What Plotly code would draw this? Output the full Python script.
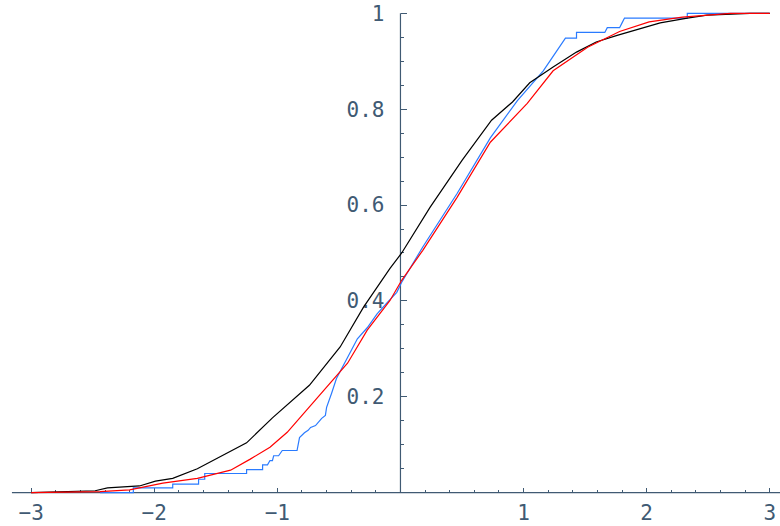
import plotly.graph_objects as go

# Black curve
black_x = [-3.00, -2.74, -2.63, -2.48, -2.38, -2.20, -2.12, -1.99, -1.85, -1.65, -1.44, -1.25,
           -1.04, -0.88, -0.74, -0.49, -0.30, -0.085, 0.01, 0.24, 0.50, 0.74, 0.91, 1.05,
           1.24, 1.43, 1.59, 1.76, 1.97, 2.11, 2.33, 2.49, 2.84, 3.00]
black_y = [0, 0.002, 0.004, 0.004, 0.010, 0.012, 0.014, 0.024, 0.030, 0.05, 0.078, 0.104,
           0.156, 0.193, 0.224, 0.304, 0.387, 0.468, 0.50, 0.595, 0.693, 0.777, 0.815, 0.855,
           0.888, 0.919, 0.94, 0.954, 0.969, 0.98, 0.99, 0.996, 1.0, 1.0]

# Red curve
red_x = [-3.0, -2.44, -2.20, -1.99, -1.93, -1.65, -1.38, -1.22, -1.12, -1.06, -0.92, -0.74,
         -0.57, -0.43, -0.27, -0.085, 0.01, 0.18, 0.46, 0.73, 1.03, 1.24, 1.52, 1.78, 2.02,
         2.29, 2.68, 3.0]
red_y = [0, 0.002, 0.006, 0.016, 0.02, 0.03, 0.047, 0.07, 0.085, 0.095, 0.126, 0.179,
         0.228, 0.27, 0.339, 0.401, 0.443, 0.505, 0.616, 0.731, 0.812, 0.88, 0.929, 0.962,
         0.982, 0.992, 1.0, 1.0]

# Blue (empirical, step-like) curve
blue_x = [-2.44, -2.17, -2.17, -1.85, -1.85, -1.64, -1.64, -1.59, -1.59, -1.25, -1.25, -1.12,
          -1.12, -1.08, -1.06, -1.04, -1.03, -0.99, -0.96, -0.84, -0.82, -0.78, -0.75, -0.73,
          -0.69, -0.67, -0.64, -0.61, -0.60, -0.56, -0.52, -0.43, -0.35, -0.27, -0.19, -0.11,
          -0.03, 0.01, 0.18, 0.46, 0.73, 0.95, 1.16, 1.34, 1.43, 1.43, 1.66, 1.68, 1.78, 1.80,
          1.82, 2.33, 2.33, 3.0]
blue_y = [0, 0, 0.01, 0.01, 0.018, 0.018, 0.028, 0.028, 0.04, 0.04, 0.048, 0.048,
          0.058, 0.058, 0.067, 0.067, 0.077, 0.077, 0.088, 0.088, 0.115, 0.125, 0.13, 0.136,
          0.14, 0.146, 0.155, 0.161, 0.178, 0.207, 0.238, 0.282, 0.321, 0.344, 0.373, 0.396,
          0.418, 0.439, 0.512, 0.624, 0.74, 0.818, 0.88, 0.948, 0.948, 0.96, 0.96, 0.97, 0.97, 0.98,
          0.99, 0.99, 1.0, 1.0]

x_tick_vals = [-3, -2, -1, 1, 2, 3]
x_tick_text = ["\u22123", "\u22122", "\u22121", "1", "2", "3"]
y_tick_vals = [0.2, 0.4, 0.6, 0.8, 1.0]
y_tick_text = ["0.2", "0.4", "0.6", "0.8", "1"]
x_minor = [-2.8, -2.6, -2.4, -2.2, -1.8, -1.6, -1.4, -1.2, -0.8, -0.6, -0.4, -0.2,
           0.2, 0.4, 0.6, 0.8, 1.2, 1.4, 1.6, 1.8, 2.2, 2.4, 2.6, 2.8]
y_minor = [0.05, 0.1, 0.15, 0.25, 0.3, 0.35, 0.45, 0.5, 0.55, 0.65, 0.7, 0.75, 0.85, 0.9, 0.95]

XR = [-3.253, 3.083]
YR = [-0.0695, 1.0277]
AX = "#405a73"
FONT = dict(family="DejaVu Sans Mono", size=21, color=AX)

fig = go.Figure()
fig.add_trace(go.Scatter(x=blue_x, y=blue_y, mode="lines",
                         line=dict(color="#2a7bff", width=1.2), hoverinfo="skip"))
fig.add_trace(go.Scatter(x=black_x, y=black_y, mode="lines",
                         line=dict(color="#000000", width=1.2), hoverinfo="skip"))
fig.add_trace(go.Scatter(x=red_x, y=red_y, mode="lines",
                         line=dict(color="#ff0000", width=1.2), hoverinfo="skip"))

# axis lines
fig.add_shape(type="line", x0=-3.156, x1=XR[1], y0=0, y1=0, xref="x", yref="y",
              line=dict(color=AX, width=1.2), layer="below")
fig.add_shape(type="line", x0=0, x1=0, y0=0, y1=1.0, xref="x", yref="y",
              line=dict(color=AX, width=1.2), layer="below")

xpos = (0 - YR[0]) / (YR[1] - YR[0])
ypos = (0 - XR[0]) / (XR[1] - XR[0])

fig.update_layout(
    width=780, height=526,
    margin=dict(l=0, r=0, t=0, b=0),
    paper_bgcolor="white", plot_bgcolor="white",
    showlegend=False,
    xaxis=dict(range=XR, anchor="free", position=xpos, showgrid=False, zeroline=False,
               showline=False, automargin=False, ticklabeloverflow="allow",
               tickmode="array", tickvals=x_tick_vals, ticktext=x_tick_text,
               ticks="inside", ticklen=5, tickwidth=1, tickcolor=AX, tickfont=FONT,
               ticklabelstandoff=5, layer="below traces",
               minor=dict(tickmode="array", tickvals=x_minor, ticks="inside", ticklen=3,
                          tickwidth=1, tickcolor=AX)),
    yaxis=dict(range=YR, anchor="free", position=ypos, showgrid=False, zeroline=False,
               showline=False, automargin=False, ticklabeloverflow="allow",
               tickmode="array", tickvals=y_tick_vals, ticktext=y_tick_text,
               ticks="inside", ticklen=6, tickwidth=1, tickcolor=AX, tickfont=FONT,
               ticklabelstandoff=16, layer="below traces",
               minor=dict(tickmode="array", tickvals=y_minor, ticks="inside", ticklen=3,
                          tickwidth=1, tickcolor=AX)),
)

fig.write_html("out.html", config={"displayModeBar": False},
               post_script="document.body.style.margin='0';document.body.style.overflow='hidden';")
